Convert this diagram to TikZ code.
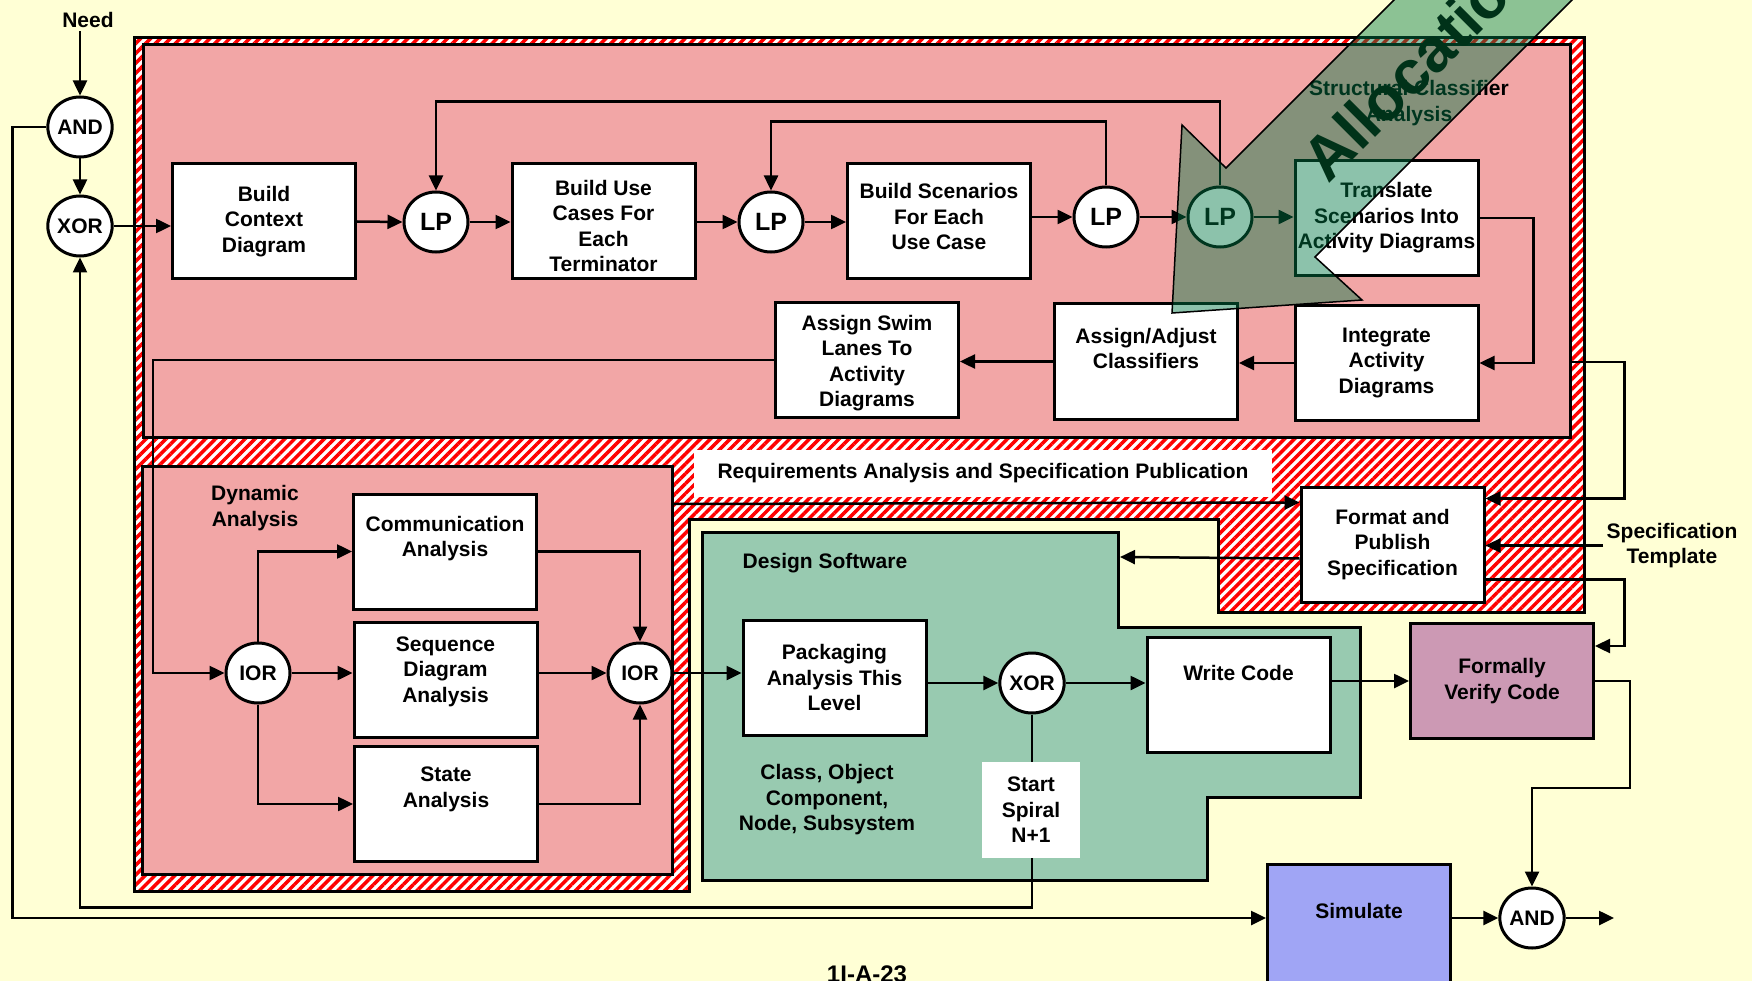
\documentclass[tikz,border=0pt]{standalone}
\usepackage{fontspec}
\setmainfont{Liberation Sans}
\usepackage{xcolor}
\usetikzlibrary{shapes.geometric,arrows.meta,calc,patterns.meta}
\definecolor{paper}{RGB}{255,255,213}
\definecolor{zonefill}{RGB}{242,166,166}
\definecolor{designfill}{RGB}{152,202,176}
\definecolor{verifyfill}{RGB}{204,153,180}
\definecolor{simfill}{RGB}{160,165,245}
\definecolor{allocfill}{RGB}{0,120,70}
\definecolor{alloctext}{RGB}{0,50,25}

\begin{document}
\begin{tikzpicture}[x=1pt, y=-1pt, >={Triangle[length=15pt,width=14pt]},
    every node/.style={font=\fontsize{21}{25.5}\selectfont\bfseries, align=center}]
    % Styles
    \tikzstyle{task} = [rectangle, draw, line width=3pt, fill=white, inner sep=2pt, minimum width=183pt, minimum height=115pt]
    \tikzstyle{gate} = [ellipse, draw, line width=3pt, fill=white, inner sep=0pt, minimum width=64pt, minimum height=60pt]
    \tikzstyle{lpgate} = [gate, font=\fontsize{25}{28}\selectfont\bfseries]
    \tikzstyle{zone} = [rectangle, draw, line width=3pt, fill=zonefill, inner sep=0pt]
    \tikzstyle{band} = [draw, line width=3pt, preaction={fill=white}, pattern={Lines[angle=45,distance=7pt,line width=3.5pt]}, pattern color=red]
    \tikzstyle{design} = [draw, line width=3pt, fill=designfill]
    \tikzstyle{flow} = [draw, line width=2.5pt, ->]
    \tikzstyle{alloc} = [draw, line width=1.5pt, fill=allocfill, fill opacity=0.45]

    \useasboundingbox (0,0) rectangle (1752,981);
    \clip (0,0) rectangle (1752,981);
    \fill[paper] (0,0) rectangle (1752,981);

    % Regions
    \path[band] (134,38) -- (1584,38) -- (1584,612) -- (1218,612) -- (1218,519)
        -- (689,519) -- (689,891) -- (134,891) -- cycle;
    \node[zone, minimum width=1427pt, minimum height=392pt] (structarea) at (856.5,241) {};
    \node[zone, minimum width=530pt, minimum height=408pt] (dynarea) at (407,670) {};
    \node[fill=white, minimum width=578pt, minimum height=47pt] (reqlbl) at (983,473.5) {Requirements Analysis and Specification Publication};
    \path[design] (702,532) -- (1118,532) -- (1118,627) -- (1360,627) -- (1360,797)
        -- (1207,797) -- (1207,880) -- (702,880) -- cycle;
    \coordinate (dsentry) at (1120,557);

    % Region labels
    \node (structlbl) at (1409,103) {Structural Classifier\\Analysis};
    \node (dynlbl) at (255,508) {Dynamic\\Analysis};
    \node (dslbl) at (825,563) {Design Software};
    \node (cosnlbl) at (827,800) {Class, Object\\Component,\\Node, Subsystem};
    \node (need) at (88,20) {Need};
    \node (spec) at (1672,545.5) {Specification\\Template};
    \node[font=\fontsize{24}{28}\selectfont\bfseries, anchor=base] (pageno) at (867,982) {1I-A-23};

    % Gates
    \node[gate] (and1) at (80,127) {AND};
    \node[gate] (xor1) at (80,226) {XOR};
    \node[lpgate] (lp1) at (436,222) {LP};
    \node[lpgate] (lp2) at (771,222) {LP};
    \node[lpgate] (lp3) at (1106,217) {LP};
    \node[lpgate] (lp4) at (1220,217) {LP};
    \node[gate] (ior1) at (258,673) {IOR};
    \node[gate] (ior2) at (640,673) {IOR};
    \node[gate] (xor2) at (1032,683) {XOR};
    \node[gate] (and2) at (1532,918) {AND};
    \coordinate (done) at (1614,918);

    % Processes
    \node[task] (ctx) at (264,221.5) {Build\\Context\\Diagram};
    \node[task, text height=101pt] (usecase) at (603.5,221.5) {Build Use\\Cases For\\Each\\Terminator};
    \node[task, text depth=10pt] (scen) at (939,221.5) {Build Scenarios\\For Each\\Use Case};
    \node[task] (translate) at (1386.5,218) {Translate\\Scenarios Into\\Activity Diagrams};
    \node[task] (integrate) at (1386.5,363) {Integrate\\Activity\\Diagrams};
    \node[task, text depth=26pt] (assignadj) at (1146,361.5) {Assign/Adjust\\Classifiers};
    \node[task, text height=98pt] (swim) at (867,360) {Assign Swim\\Lanes To\\Activity\\Diagrams};
    \node[task, text depth=30pt] (comm) at (445,551.5) {Communication\\Analysis};
    \node[task, text depth=20pt] (seq) at (445.5,679.5) {Sequence\\Diagram\\Analysis};
    \node[task, text depth=34pt] (state) at (446,804) {State\\Analysis};
    \node[task] (packaging) at (834.5,677.5) {Packaging\\Analysis This\\Level};
    \node[task, text depth=44pt] (writecode) at (1238.5,695) {Write Code};
    \node[task] (format) at (1392.5,544.5) {Format and\\Publish\\Specification};
    \node[task, fill=verifyfill] (formally) at (1502,681) {Formally\\Verify Code};
    \node[task, fill=simfill, minimum height=136pt, text depth=42pt] (simulate) at (1359,932) {Simulate};

    % Connectors
    \draw[flow] (need.south -| and1) -- (and1.north);
    \draw[flow] (and1.south) -- (xor1.north);
    \draw[flow] (xor1.east) -- (xor1.east -| ctx.west);
    \draw[flow] (ctx.east) -- (lp1.west);
    \draw[flow] (lp1.east) -- (lp1.east -| usecase.west);
    \draw[flow] (usecase.east |- lp2) -- (lp2.west);
    \draw[flow] (lp2.east) -- (lp2.east -| scen.west);
    \draw[flow] (scen.east |- lp3) -- (lp3.west);
    \draw[flow] (lp3.east) -- (lp4.west);
    \draw[flow] (lp4.east) -- (lp4.east -| translate.west);
    \draw[flow] (lp4.north) -- ++(0,-84) -| (lp1.north);
    \draw[flow] (lp3.north) -- ++(0,-64) -| (lp2.north);
    \draw[flow] (translate.east) -- ++(54,0) |- (integrate.east);
    \draw[flow] (integrate.west) -- (integrate.west -| assignadj.east);
    \draw[flow] (assignadj.west) -- (assignadj.west -| swim.east);
    \draw[flow] (swim.west) -- ++(-621,0) |- (ior1.west);
    \draw[flow] (ior1.north) |- (comm.west);
    \draw[flow] (ior1.east) -- (ior1.east -| seq.west);
    \draw[flow] (ior1.south) |- (state.west);
    \draw[flow] (comm.east) -| (ior2.north);
    \draw[flow] (seq.east |- ior2) -- (ior2.west);
    \draw[flow] (state.east) -| (ior2.south);
    \draw[flow] (ior2.east) -- (ior2.east -| packaging.west);
    \draw[flow] (packaging.east |- xor2) -- (xor2.west);
    \draw[flow] (xor2.east) -- (xor2.east -| writecode.west);
    \draw[flow] (writecode.east |- formally) -- (formally.west);
    \draw[flow] (xor2.south) -- ++(0,193) -| (xor1.south);
    \draw[flow] (and1.west) -- ++(-34,0) |- (simulate.west |- and2);
    \draw[flow] (simulate.east |- and2) -- (and2.west);
    \draw[flow] (and2.east) -- (done);
    \draw[flow] (structarea.east |- 0,362) -- ++(53,0) |- ($(format.north east)+(0,13)$);
    \draw[flow] (dynarea.east |- 0,504) -- ($(format.north west)+(0,17)$);
    \draw[flow] ($(format.south west)+(0,-45)$) -- (dsentry);
    \draw[flow] (spec.west) -- (spec.west -| format.east);
    \draw[flow] ($(format.south east)+(0,-24)$) -- ++(139,0) |- ($(formally.north east)+(0,24)$);
    \draw[flow] (formally.east) -- ++(35,0) -- ++(0,107) -| (and2.north);

    % Spiral label over its line
    \node[fill=white, minimum width=98pt, minimum height=96pt] (spiral) at (1031,810) {Start\\Spiral\\N+1};

    % Allocation arrow
    \path[alloc] (1172,313) -- (1182,125) -- (1226,168) -- (1534,-140) -- (1712,-140)
        -- (1315,257) -- (1362,300) -- cycle;
    \node[font=\fontsize{62}{70}\selectfont\bfseries, text=alloctext, rotate=45, anchor=base west] (alloclbl) at (1326,187) {Allocation};
\end{tikzpicture}
\end{document}
